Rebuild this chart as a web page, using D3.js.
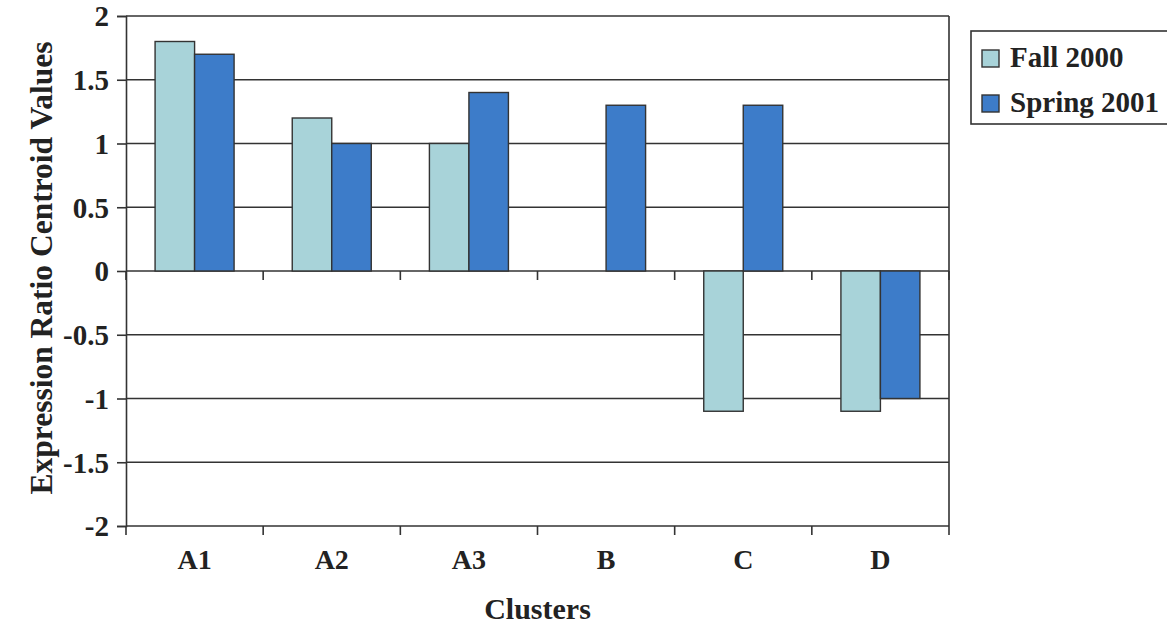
<!DOCTYPE html>
<html><head><meta charset="utf-8">
<script src="https://cdn.jsdelivr.net/npm/d3@7"></script>
<style>
html,body{margin:0;padding:0;background:#fff;}
text{font-family:"Liberation Serif","Times New Roman",serif;font-weight:bold;fill:#222;}
</style></head>
<body><svg id="c" width="1167" height="625"></svg>
<script>
const categories = ["A1","A2","A3","B","C","D"];
const seriesNames = ["Fall 2000","Spring 2001"];
const fall2000 = [1.8, 1.2, 1.0, 0, -1.1, -1.1];
const spring2001 = [1.7, 1.0, 1.4, 1.3, 1.3, -1.0];
const yTicks = [2,1.5,1,0.5,0,-0.5,-1,-1.5,-2];
const colors = ["#a8d3d9","#3d7cc9"];

const svg = d3.select("#c");
const L=126, R=949, T=16, B=526;
const x = d3.scaleBand().domain(categories).range([L,R]).paddingInner(0.424).paddingOuter(0.212);
const xs = d3.scaleBand().domain(seriesNames).range([0,x.bandwidth()]);
const y = d3.scaleLinear().domain([-2,2]).range([B,T]);
const stroke="#333";

// gridlines
svg.append("g").selectAll("line").data(yTicks).join("line")
  .attr("x1",L).attr("x2",R).attr("y1",d=>y(d)).attr("y2",d=>y(d))
  .attr("stroke",stroke).attr("stroke-width",1.6);
// right border
svg.append("line").attr("x1",R).attr("x2",R).attr("y1",T).attr("y2",B).attr("stroke",stroke).attr("stroke-width",1.6);

// bars
const data = [fall2000, spring2001];
data.forEach((vals,si)=>{
  svg.append("g").selectAll("rect").data(categories.map((c,i)=>({c,v:vals[i]})).filter(d=>d.v!==0)).join("rect")
    .attr("x",d=>x(d.c)+xs(seriesNames[si]))
    .attr("width",xs.bandwidth())
    .attr("y",d=>Math.min(y(d.v),y(0)))
    .attr("height",d=>Math.abs(y(d.v)-y(0)))
    .attr("fill",colors[si]).attr("stroke",stroke).attr("stroke-width",1.4);
});

// y axis
const yAxis = d3.axisLeft(y).tickValues(yTicks).tickSize(9).tickPadding(8).tickFormat(d=>String(d));
const gy = svg.append("g").attr("transform",`translate(${L},0)`).call(yAxis);
gy.select(".domain").attr("stroke",stroke).attr("stroke-width",1.6);
gy.selectAll(".tick line").attr("stroke",stroke).attr("stroke-width",1.6);
gy.selectAll(".tick text").attr("font-size",29).attr("font-family","Liberation Serif").attr("font-weight","bold").attr("fill","#222").attr("dy","0.34em");

// x axis ticks at zero and bottom (category boundaries)
const bounds = categories.map(c=>x(c)-x.step()*x.paddingInner()/2).concat([R]);
[0,-2].forEach(v=>{
  svg.append("g").selectAll("line").data(bounds).join("line")
    .attr("x1",d=>d).attr("x2",d=>d).attr("y1",y(v)).attr("y2",y(v)+9)
    .attr("stroke",stroke).attr("stroke-width",1.6);
});
// x labels
svg.append("g").selectAll("text").data(categories).join("text")
  .attr("x",d=>x(d)+x.bandwidth()/2).attr("y",569).attr("text-anchor","middle")
  .attr("font-size",28).text(d=>d);

// axis titles
svg.append("text").attr("x",(L+R)/2).attr("y",619).attr("text-anchor","middle").attr("font-size",30).text("Clusters");
svg.append("text").attr("transform","translate(52,268) rotate(-90)").attr("text-anchor","middle").attr("font-size",31.5).text("Expression Ratio Centroid Values");

// legend
const lg = svg.append("g");
lg.append("rect").attr("x",971).attr("y",31).attr("width",210).attr("height",93).attr("fill","#fff").attr("stroke",stroke).attr("stroke-width",1.6);
seriesNames.forEach((s,i)=>{
  lg.append("rect").attr("x",982).attr("y",50+i*45).attr("width",17).attr("height",17).attr("fill",colors[i]).attr("stroke",stroke).attr("stroke-width",1.4);
  lg.append("text").attr("x",1010).attr("y",67+i*45).attr("font-size",29).text(s);
});
</script></body></html>
